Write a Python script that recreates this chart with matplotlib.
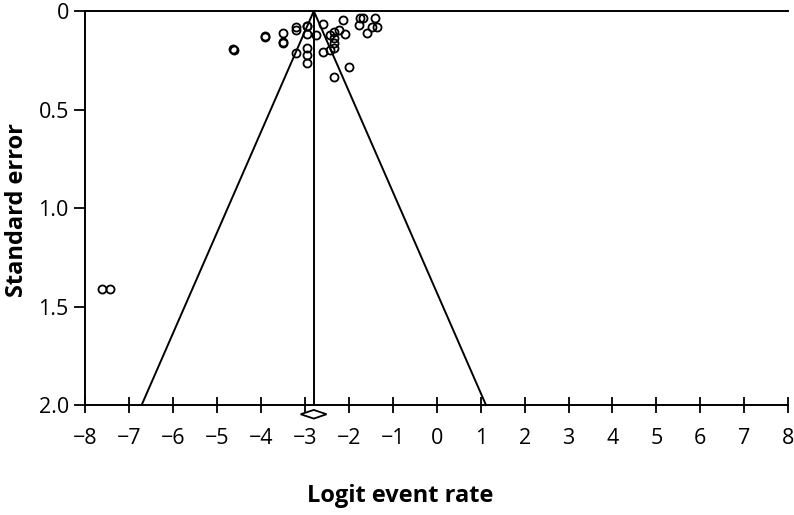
import numpy as np
import matplotlib
matplotlib.use("Agg")
import matplotlib.pyplot as plt
from matplotlib.patches import Polygon

plt.rcParams['font.family'] = ['Open Sans', 'DejaVu Sans']

# study estimates: logit event rate and standard error
logit_rate = [-7.63, -7.44, -4.63, -4.62, -3.91, -3.90, -3.51, -3.51, -3.50,
              -3.20, -3.20, -2.96, -2.95, -2.96, -2.76, -2.59, -3.20, -2.96,
              -2.96, -2.96, -2.59, -2.44, -2.33, -2.33, -2.33, -2.33, -2.22,
              -2.13, -2.10, -2.44, -2.01, -2.33, -1.74, -1.67, -1.76, -1.40,
              -1.59, -1.48, -1.35]
std_err = [1.413, 1.413, 0.192, 0.197, 0.128, 0.132, 0.110, 0.157, 0.161,
           0.080, 0.096, 0.074, 0.078, 0.117, 0.122, 0.068, 0.212, 0.189,
           0.223, 0.262, 0.207, 0.122, 0.105, 0.136, 0.164, 0.189, 0.096,
           0.046, 0.117, 0.198, 0.286, 0.334, 0.037, 0.037, 0.071, 0.037,
           0.113, 0.083, 0.083]

pooled = -2.80
pooled_lo = -3.10
pooled_hi = -2.51
se_max = 2.0

xticks = list(range(-8, 9))
yticks = [0, 0.5, 1.0, 1.5, 2.0]
ytick_labels = ["0", "0.5", "1.0", "1.5", "2.0"]

fig = plt.figure(figsize=(7.94, 5.15), dpi=100)
ax = fig.add_axes([0.1076, 0.2136, 0.885, 0.765])

# funnel
ax.plot([pooled - 1.96 * se_max, pooled, pooled + 1.96 * se_max], [se_max, 0, se_max],
        color='black', lw=1.4, clip_on=False)
ax.plot([pooled, pooled], [0, se_max], color='black', lw=1.4)

ax.plot(logit_rate, std_err, 'o', mfc='none', mec='black', ms=5.8, mew=1.3, clip_on=False)

# pooled estimate diamond below the axis
dh = 0.022
yd = 2.047
diamond = Polygon([[pooled_lo, yd], [pooled, yd - dh], [pooled_hi, yd], [pooled, yd + dh]],
                  closed=True, fill=False, edgecolor='black', lw=1.3, clip_on=False)
ax.add_patch(diamond)

ax.set_xlim(-8, 8)
ax.set_ylim(2.0, 0)
ax.set_xticks(xticks)
ax.set_yticks(yticks)
ax.set_yticklabels(ytick_labels)
ax.tick_params(axis='x', direction='inout', length=11, width=1.3, labelsize=15.5, pad=11)
ax.tick_params(axis='y', direction='out', length=8, width=1.3, labelsize=15.5, pad=4)

ax.spines['right'].set_visible(False)
for s in ['top', 'bottom', 'left']:
    ax.spines[s].set_linewidth(1.4)

ax.set_xlabel("Logit event rate", fontsize=17, fontweight='bold')
ax.set_ylabel("Standard error", fontsize=17, fontweight='bold')
ax.xaxis.set_label_coords(0.448, -0.2)
ax.yaxis.set_label_coords(-0.08, 0.495)

fig.savefig("out.png", dpi=100)
